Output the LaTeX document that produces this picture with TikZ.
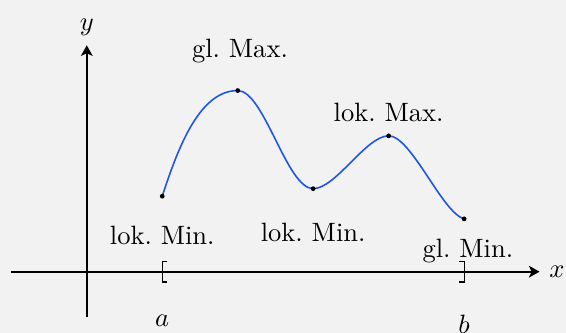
\documentclass[tikz,border=0pt]{standalone}
\usepackage{amsmath,amssymb}
\usepackage{xcolor}
\usepackage{tikz}
\usetikzlibrary{arrows.meta, positioning}

\definecolor{curveblue}{RGB}{30,85,230}
\frenchspacing

\begin{document}
\begin{tikzpicture}[
  axis/.style={draw, thick, -{Stealth[length=4pt, width=4.4pt, inset=1pt]}},
  curve/.style={draw, color=curveblue, line width=0.6pt},
  extremum/.style={anchor=base},
  bracket/.style={draw, line width=0.4pt},
  dot/.style={fill=black}
]

  \fill [black!5] (-1.15,-0.81) rectangle (6.35,3.6);
  \useasboundingbox (-1.15,-0.81) rectangle (6.35,3.6);

  \coordinate (xstart) at (-1,0);
  \coordinate (xend) at (6,0);
  \coordinate (ystart) at (0,-0.6);
  \coordinate (yend) at (0,3);
  \coordinate (a) at (1,0);
  \coordinate (b) at (5,0);

  \coordinate (p1) at (1,1.0);
  \coordinate (p2) at (2,2.4);
  \coordinate (p3) at (3,1.1);
  \coordinate (p4) at (4,1.8);
  \coordinate (p5) at (5,0.7);

  % axes
  \path [axis] (xstart) -- (xend) node[right] (xlabel) {$x$};
  \path [axis] (ystart) -- (yend) node[above] (ylabel) {$y$};

  % interval [a,b]
  \path [bracket] ([xshift=1.9pt, yshift=3.9pt]a) -| ([yshift=-3.9pt]a) -- ([xshift=1.9pt, yshift=-3.9pt]a);
  \path [bracket] ([xshift=-1.9pt, yshift=3.9pt]b) -| ([yshift=-3.9pt]b) -- ([xshift=-1.9pt, yshift=-3.9pt]b);
  \node [below=0.45cm of a] (alabel) {$a$};
  \node [below=0.45cm of b] (blabel) {$b$};

  % function
  \path [curve] (p1) to[out=72, in=180, out distance=0.7cm, in distance=0.5cm] (p2)
    to[out=0, in=180, distance=0.35cm] (p3)
    to[out=0, in=180, distance=0.3cm] (p4)
    to[out=0, in=165, distance=0.3cm] (p5);
  \foreach \p in {p1,p2,p3,p4,p5}
    \fill [dot] (\p) circle (0.9pt);

  \node [extremum] (lokmin1) at (1,0.36) {lok. Min.};
  \node [extremum] (glmax) at (2.03,2.84) {gl. Max.};
  \node [extremum] (lokmin2) at (3,0.40) {lok. Min.};
  \node [extremum] (lokmax) at (4,1.99) {lok. Max.};
  \node [extremum] (glmin) at (5.05,0.19) {gl. Min.};

\end{tikzpicture}
\end{document}
